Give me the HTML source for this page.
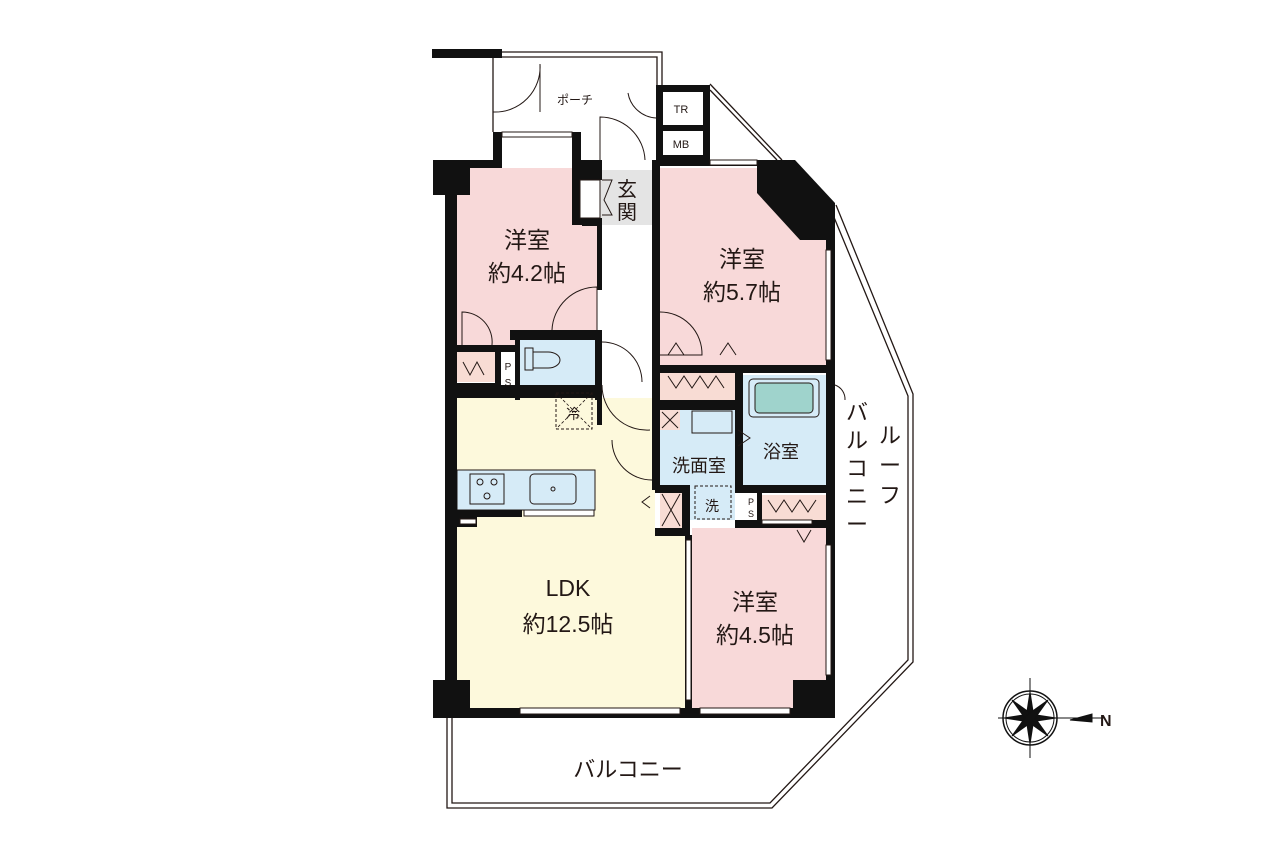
<!DOCTYPE html>
<html><head><meta charset="utf-8"><style>
html,body{margin:0;padding:0;background:#fff;}
svg{display:block}
text{font-family:"Liberation Sans","Noto Sans CJK JP",sans-serif;fill:#231815}
</style></head><body>
<svg width="1280" height="853" viewBox="0 0 1280 853" xmlns="http://www.w3.org/2000/svg">
<!-- balcony outlines -->
<g fill="none" stroke="#231815" stroke-width="1.3">
<polyline points="447,718 447,808 772,808 913,662 913,394 836,205"/>
<polyline points="452,718 452,803 770,803 908,660 908,396 831,210"/>
<polyline points="710,84 782,160"/>
<polyline points="710,90 777,160"/>
<polyline points="500,52 662,52 662,85"/>
<polyline points="500,57 657,57 657,85"/>
<line x1="493" y1="58" x2="493" y2="132"/>
</g>
<!-- room fills -->
<rect x="457" y="168" width="140" height="180" fill="#f8d9d9"/>
<polygon points="660,168 757,168 757,190 800,235 826,235 826,365 660,365" fill="#f8d9d9"/>
<rect x="692" y="528" width="134" height="180" fill="#f8d9d9"/>
<polygon points="457,398 655,398 655,530 685,530 685,708 457,708" fill="#fdf9dc"/>
<rect x="600" y="170" width="52" height="55" fill="#e4e4e4"/>
<rect x="515" y="340" width="82" height="45" fill="#d6ebf7"/>
<rect x="660" y="410" width="80" height="75" fill="#d6ebf7"/>
<rect x="742" y="375" width="84" height="110" fill="#d6ebf7"/>
<rect x="690" y="485" width="45" height="35" fill="#d6ebf7"/>
<rect x="457" y="470" width="138" height="40" fill="#d6ebf7" stroke="#231815" stroke-width="1"/>
<rect x="457" y="352" width="38" height="30" fill="#f8dcd4"/>
<rect x="660" y="372" width="80" height="28" fill="#f8dcd4"/>
<rect x="762" y="495" width="64" height="25" fill="#f8dcd4"/>
<rect x="660" y="410" width="20" height="20" fill="#f8dcd4"/>
<rect x="660" y="492" width="22" height="36" fill="#f8dcd4"/>
<!-- bath tub -->
<rect x="749" y="379" width="70" height="38" rx="4" fill="#d6ebf7" stroke="#231815"/>
<rect x="755" y="383" width="58" height="30" rx="4" fill="#9fd3cc" stroke="#231815"/>
<!-- walls -->
<g fill="#111">
<rect x="432" y="49" width="70" height="9"/>
<rect x="433" y="160" width="37" height="35"/>
<rect x="445" y="160" width="12" height="558"/>
<rect x="433" y="680" width="37" height="38"/>
<rect x="433" y="708" width="400" height="10"/>
<rect x="793" y="680" width="40" height="38"/>
<rect x="826" y="205" width="9" height="513"/>
<polygon points="757,160 795,160 835,203 835,240 800,240 757,193"/>
<rect x="493" y="132" width="9" height="36"/>
<rect x="572" y="132" width="9" height="36"/>
<rect x="457" y="160" width="45" height="8"/>
<rect x="572" y="160" width="30" height="20"/>
<rect x="572" y="180" width="10" height="45"/>
<rect x="582" y="218" width="20" height="8"/>
<rect x="597" y="225" width="5" height="65"/>
<rect x="652" y="160" width="8" height="330"/>
<rect x="656" y="85" width="54" height="7"/>
<rect x="656" y="85" width="7" height="75"/>
<rect x="703" y="85" width="7" height="80"/>
<rect x="656" y="125" width="54" height="6"/>
<rect x="656" y="155" width="54" height="7"/>
<rect x="660" y="160" width="97" height="6"/>
<rect x="457" y="345" width="60" height="7"/>
<rect x="510" y="330" width="92" height="10"/>
<rect x="495" y="345" width="6" height="50"/>
<rect x="515" y="340" width="5" height="60"/>
<rect x="457" y="383" width="40" height="12"/>
<rect x="457" y="385" width="145" height="13"/>
<rect x="595" y="330" width="7" height="70"/>
<rect x="597" y="385" width="5" height="40"/>
<rect x="660" y="365" width="166" height="8"/>
<rect x="735" y="370" width="8" height="120"/>
<rect x="655" y="400" width="85" height="10"/>
<rect x="655" y="485" width="35" height="8"/>
<rect x="682" y="485" width="8" height="50"/>
<rect x="655" y="528" width="35" height="8"/>
<rect x="735" y="485" width="95" height="8"/>
<rect x="757" y="490" width="5" height="30"/>
<rect x="735" y="520" width="95" height="8"/>
<rect x="685" y="535" width="7" height="175"/>
<rect x="457" y="510" width="65" height="7"/>
<rect x="457" y="517" width="20" height="10"/>
</g>
<!-- windows -->
<g fill="#fff" stroke="#231815" stroke-width="1">
<rect x="520" y="708" width="160" height="6"/>
<rect x="700" y="708" width="90" height="6"/>
<rect x="826" y="250" width="5" height="110"/>
<rect x="826" y="545" width="5" height="130"/>
<rect x="502" y="132" width="70" height="5"/>
<rect x="710" y="160" width="47" height="5"/>
<rect x="580" y="180" width="20" height="38"/>
<rect x="686" y="540" width="5" height="160"/>
<rect x="524" y="510" width="70" height="6"/>
<rect x="460" y="519" width="16" height="5"/>
<rect x="762" y="520" width="50" height="4"/>
</g>
<!-- doors -->
<g fill="none" stroke="#231815" stroke-width="1">
<path d="M493,112 A45,45 0 0,0 540,64 L540,112"/>
<path d="M600,160 L600,117 A45,45 0 0,1 645,160"/>
<path d="M628,93 A30,30 0 0,0 656,118"/>
<path d="M552,330 A45,45 0 0,1 597,287 L597,330"/>
<path d="M462,345 L462,312 A30,30 0 0,1 492,345"/>
<path d="M660,312 A42,42 0 0,1 702,355 L660,355"/>
<path d="M602,342 A40,40 0 0,1 642,382"/>
<path d="M602,385 A45,45 0 0,0 650,430"/>
<path d="M612,440 A40,40 0 0,0 652,480"/>
<path d="M835,385 A15,15 0 0,1 845,400"/>
<path d="M668,355 L676,343 L684,355 M720,355 L728,343 L736,355"/>
<path d="M738,430 L750,438 L738,446 M650,496 L642,502 L650,508 M797,530 L804,542 L811,530"/>
<path d="M463,362 L470,375 L477,362 L484,375 M668,376 L676,388 L684,376 L692,388 L700,376 L708,388 L716,376 L724,388"/>
<path d="M768,500 L776,512 L784,500 L792,512 L800,500 L808,512 L816,500"/>
<path d="M662,412 L678,428 M678,412 L662,428 M662,494 L680,526 M680,494 L662,526"/>
<path d="M602,180 L612,180 L604,200 L612,215 L602,215"/>
</g>
<!-- fridge, washer -->
<rect x="556" y="393" width="36" height="36" fill="none" stroke="#231815" stroke-dasharray="3,2"/>
<path d="M556,393 L592,429 M592,393 L556,429" stroke="#231815" stroke-width="0.8" stroke-dasharray="3,2"/>
<rect x="695" y="486" width="36" height="33" fill="none" stroke="#231815" stroke-dasharray="3,2"/>
<rect x="692" y="411" width="40" height="22" fill="none" stroke="#231815"/>
<!-- toilet -->
<path d="M525,348 h8 v22 h-8 z M533,352 h15 a12,8 0 0,1 0,16 h-15z" fill="#d6ebf7" stroke="#231815"/>
<!-- stove & sink -->
<rect x="470" y="474" width="34" height="30" fill="none" stroke="#231815"/>
<g fill="none" stroke="#231815"><circle cx="480" cy="482" r="3"/><circle cx="494" cy="482" r="3"/><circle cx="487" cy="496" r="3"/></g>
<rect x="530" y="474" width="46" height="30" rx="4" fill="#d6ebf7" stroke="#231815"/>
<circle cx="553" cy="489" r="2" fill="none" stroke="#231815"/>
<!-- labels -->
<text x="527" y="248" font-size="23" text-anchor="middle">洋室</text>
<text x="527" y="281" font-size="23" text-anchor="middle">約4.2帖</text>
<text x="742" y="267" font-size="23" text-anchor="middle">洋室</text>
<text x="742" y="300" font-size="23" text-anchor="middle">約5.7帖</text>
<text x="568" y="596" font-size="23" text-anchor="middle">LDK</text>
<text x="568" y="632" font-size="23" text-anchor="middle">約12.5帖</text>
<text x="755" y="610" font-size="23" text-anchor="middle">洋室</text>
<text x="755" y="643" font-size="23" text-anchor="middle">約4.5帖</text>
<text x="627" y="196" font-size="20" text-anchor="middle">玄</text>
<text x="627" y="219" font-size="20" text-anchor="middle">関</text>
<text x="699" y="472" font-size="18" text-anchor="middle">洗面室</text>
<text x="781" y="458" font-size="18" text-anchor="middle">浴室</text>
<text x="573" y="419" font-size="14" text-anchor="middle">冷</text>
<text x="712" y="511" font-size="14" text-anchor="middle">洗</text>
<text x="575" y="104" font-size="12" text-anchor="middle">ポーチ</text>
<text x="681" y="113" font-size="11" text-anchor="middle">TR</text>
<text x="681" y="148" font-size="11" text-anchor="middle">MB</text>
<text x="508" y="370" font-size="10" text-anchor="middle">P</text>
<text x="508" y="386" font-size="10" text-anchor="middle">S</text>
<text x="751" y="505" font-size="9" text-anchor="middle">P</text>
<text x="751" y="517" font-size="9" text-anchor="middle">S</text>
<text x="628" y="777" font-size="22" text-anchor="middle">バルコニー</text>
<g font-size="22" text-anchor="middle">
<text x="890" y="443">ル</text><text x="890" y="473">ー</text><text x="890" y="503">フ</text>
<text x="857" y="420">バ</text><text x="857" y="448">ル</text><text x="857" y="476">コ</text><text x="857" y="504">ニ</text><text x="857" y="532">ー</text>
</g>
<!-- compass -->
<g transform="translate(1030,718)" stroke="#111" fill="none">
<circle r="27" stroke-width="1.5"/>
<circle r="24" stroke-width="1"/>
<line x1="-32" y1="0" x2="75" y2="0"/>
<line x1="0" y1="-40" x2="0" y2="40"/>
<polygon points="0,-26 4,0 0,26 -4,0" fill="#111"/>
<polygon points="-26,0 0,-4 26,0 0,4" fill="#111"/>
<polygon points="-18,-18 3,-3 18,18 -3,3" fill="#111"/>
<polygon points="18,-18 3,3 -18,18 -3,-3" fill="#111"/>
<polygon points="40,2 62,-4 62,4" fill="#111"/>
</g>
<text x="1100" y="726" font-size="16" font-weight="bold">N</text>
</svg>
</body></html>
